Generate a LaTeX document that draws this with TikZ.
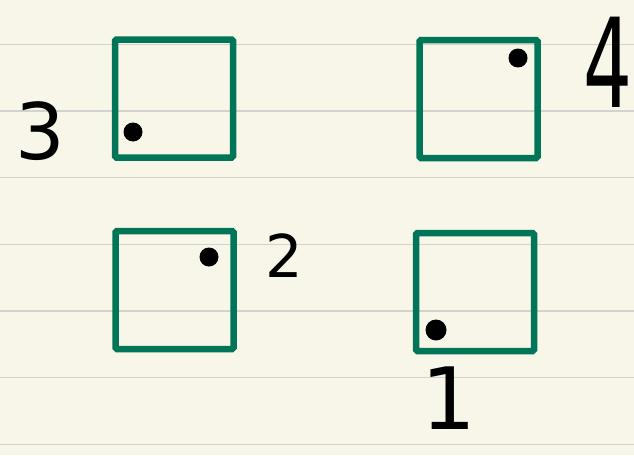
\documentclass[tikz,border=0pt]{standalone}
\usepackage{fontspec}
\setmainfont{DejaVu Sans}
\definecolor{paper}{RGB}{248,246,232}
\definecolor{rule1}{RGB}{210,210,206}
\definecolor{green1}{RGB}{0,117,87}
\usetikzlibrary{positioning}

\begin{document}
\begin{tikzpicture}[x=1pt, y=-1pt,
    box/.style={draw=green1, line width=6.5pt, rounded corners=1.5pt, minimum size=118pt, inner sep=0pt},
    dot/.style={circle, fill=black, minimum size=19pt, inner sep=0pt},
    num/.style={inner sep=0pt, text=black}]
  % paper with ruled lines
  \fill[paper] (0,0) rectangle (634,455);
  \useasboundingbox (0,0) rectangle (634,455);
  \foreach \y in {44.5,111,177.5,244.5,311,377.5,444.5}
    \draw[rule1, line width=1.8pt] (0,\y) -- (634,\y);

  % squares
  \node[box] (sq3) at (174,98.5) {};
  \node[box] (sq4) at (478.5,99) {};
  \node[box] (sq2) at (174.5,290) {};
  \node[box] (sq1) at (475,292) {};

  % dots
  \node[dot] (d3) at (133,132) {};
  \node[dot] (d4) at (518,58) {};
  \node[dot] (d2) at (209,257) {};
  \node[dot, minimum size=21pt] (d1) at (436,330) {};

  % numbers
  \node[num, font=\fontsize{78}{78}\selectfont] (n3) at (40,131) {3};
  \node[num, font=\fontsize{124}{124}\selectfont, xscale=0.62] (n4) at (608,62) {4};
  \node[num, font=\fontsize{59}{59}\selectfont] (n2) at (284,256) {2};
  \node[num, font=\fontsize{86}{86}\selectfont] (n1) at (449,398) {1};
\end{tikzpicture}
\end{document}
